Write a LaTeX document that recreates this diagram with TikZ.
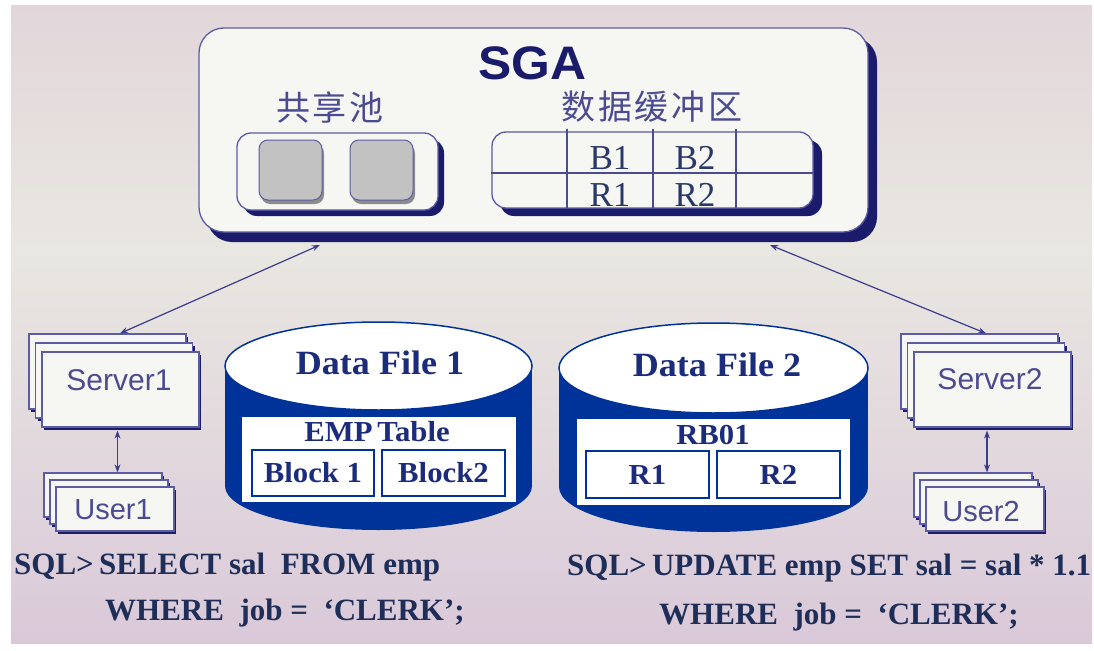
\documentclass[tikz,border=0pt]{standalone}
\usepackage{fontspec}
\setmainfont{Liberation Serif}
\newfontfamily\wideserif[FakeStretch=1.06]{Liberation Serif}
\newfontfamily\sansf{Liberation Sans}
\newfontfamily\widesans[FakeStretch=1.06]{Liberation Sans}
\newfontfamily\cjk[LetterSpace=8]{Noto Sans CJK SC}
\usetikzlibrary{arrows.meta,shadows}
\definecolor{bgtop}{HTML}{E2D6DA}
\definecolor{bgmid}{HTML}{E9E7E1}
\definecolor{bgbot}{HTML}{DAC9D9}
\definecolor{edge}{HTML}{5C5CA6}
\definecolor{navy}{HTML}{1B1B6B}
\definecolor{paper}{HTML}{F6F6F2}
\definecolor{cylblue}{HTML}{003399}
\definecolor{txtblue}{HTML}{1C2C7C}
\definecolor{sqlcol}{HTML}{1E2E58}
\definecolor{lilac}{HTML}{4B4B92}
\definecolor{arrowc}{HTML}{3C3C8C}
\definecolor{cellc}{HTML}{283868}
\definecolor{poolgray}{HTML}{C2C2C2}
\definecolor{poolshade}{HTML}{8C8C8C}
\tikzset{
  panel/.style={draw=edge, fill=paper, line width=1.3pt, inner sep=0pt, rounded corners=#1},
  card/.style={draw=edge, fill=paper, line width=1.2pt, inner sep=0pt,
    drop shadow={fill=navy, opacity=1, shadow xshift=2pt, shadow yshift=-3pt}},
  srvcard/.style={card, minimum width=157pt, minimum height=75pt},
  usrcard/.style={card, minimum width=118pt, minimum height=44pt},
  cardtext/.style={font=\sansf\fontsize{30}{32}\selectfont, text=lilac, inner sep=0pt},
  usrtext/.style={font=\sansf\fontsize{29}{31}\selectfont, text=lilac, inner sep=0pt},
  poolsq/.style={draw=edge, fill=poolgray, line width=1pt, rounded corners=9pt, inner sep=0pt,
    minimum width=63pt, minimum height=60pt,
    drop shadow={fill=poolshade, opacity=1, shadow xshift=2pt, shadow yshift=-4pt}},
  blk/.style={draw=cylblue, fill=white, line width=1.2pt, inner sep=0pt,
    font=\wideserif\bfseries\fontsize{29}{31}\selectfont, text=txtblue},
  cylfill/.style={fill=cylblue},
  dbl/.style={draw=arrowc, line width=1.2pt, {Stealth[length=8pt,width=6pt]}-{Stealth[length=8pt,width=6pt]}},
  gridln/.style={draw=lilac, line width=1.1pt},
  celltext/.style={font=\fontsize{35}{37}\selectfont, text=cellc, inner sep=0pt},
  sqltext/.style={font=\bfseries\fontsize{31}{33}\selectfont, text=sqlcol, inner sep=0pt, anchor=west},
  cjktext/.style={font=\cjk\fontsize{34}{36}\selectfont, text=lilac, inner sep=0pt},
  dftitle/.style={font=\wideserif\bfseries\fontsize{34}{36}\selectfont, text=txtblue, inner sep=0pt},
  tbltitle/.style={font=\wideserif\bfseries\fontsize{29}{31}\selectfont, text=txtblue, inner sep=0pt}
}
\begin{document}
\begin{tikzpicture}[x=1pt,y=-1pt]
\useasboundingbox (0,0) rectangle (1094,650);
\fill[white] (0,0) rectangle (1094,650);
\shade[top color=bgtop, bottom color=bgmid] (11,6) rectangle (1092,250.5);
\shade[top color=bgmid, bottom color=bgbot] (11,250) rectangle (1092,643);

% ---------------- SGA ----------------
\fill[navy, rounded corners=25pt] (207,37) rectangle (877,242);
\node[panel=25pt, minimum width=669pt, minimum height=204pt] (sga) at (533.5,130) {};
\node[font=\widesans\bfseries\fontsize{47}{49}\selectfont, text=navy, inner sep=0pt] (sgat) at (532,63) {SGA};
\node[cjktext] (poolt) at (330,107) {共享池};
\node[cjktext] (buft) at (652,107) {数据缓冲区};

% shared pool
\fill[navy, rounded corners=14pt] (243,139) rectangle (444,216);
\node[panel=14pt, minimum width=201pt, minimum height=77pt] (pool) at (337.5,171.5) {};
\node[poolsq] (sq1) at (290.5,170) {};
\node[poolsq] (sq2) at (381.5,170) {};

% buffer cache
\fill[navy, rounded corners=14pt] (500,140) rectangle (822,216);
\node[panel=14pt, minimum width=321pt, minimum height=76pt] (buf) at (652.5,170) {};
\draw[gridln] (buf.west |- 0,173) -- (buf.east |- 0,173);
\draw[gridln] (567,129) -- (567,208);
\draw[gridln] (653,129) -- (653,208);
\draw[gridln] (736,129) -- (736,208);
\node[celltext] (b1) at (610,158) {B1};
\node[celltext] (b2) at (695,158) {B2};
\node[celltext] (r1) at (610,195) {R1};
\node[celltext] (r2) at (695,195) {R2};

% ---------------- Server1 / User1 ----------------
\node[srvcard] (s1c) at (107.5,371.5) {};
\node[srvcard] (s1b) at (114,380.5) {};
\node[srvcard] (s1) at (120.5,389.5) {};
\node[cardtext] (s1t) at (119,380) {Server1};
\node[usrcard] (u1c) at (103,495) {};
\node[usrcard] (u1b) at (109,502) {};
\node[usrcard] (u1) at (115,509) {};
\node[usrtext] (u1t) at (113,510) {User1};

% ---------------- Server2 / User2 ----------------
\node[srvcard] (s2c) at (979.5,371.5) {};
\node[srvcard] (s2b) at (986,380.5) {};
\node[srvcard] (s2) at (992.5,389.5) {};
\node[cardtext] (s2t) at (990,379) {Server2};
\node[usrcard] (u2c) at (973,495) {};
\node[usrcard] (u2b) at (979,502) {};
\node[usrcard] (u2) at (985,509) {};
\node[usrtext] (u2t) at (981,512) {User2};

% ---------------- connectors ----------------
\coordinate (sgaL) at (320,245);
\coordinate (sgaR) at (770,245);
\coordinate (x1a) at (120,0);
\coordinate (x2a) at (986,0);
\coordinate (x1b) at (117.5,0);
\coordinate (x2b) at (987,0);
\draw[dbl] (sgaL) -- (s1c.north -| x1a);
\draw[dbl] (sgaR) -- (s2c.north -| x2a);
\draw[dbl, shorten <=3pt] (s1.south -| x1b) -- (u1c.north -| x1b);
\draw[dbl, shorten <=3pt] (s2.south -| x2b) -- (u2c.north -| x2b);

% ---------------- Data File 1 ----------------
\fill[cylfill] (225,366) rectangle (532,486);
\fill[cylfill] (378.5,486) ellipse [x radius=153.5pt, y radius=44pt];
\draw[draw=cylblue, fill=white, line width=1.5pt] (378.5,366) ellipse [x radius=153.5pt, y radius=44pt];
\node[dftitle] (df1) at (380,363) {Data File 1};
\fill[white] (242,417) rectangle (516,502);
\node[tbltitle] (emp) at (377,432) {EMP\,Table};
\node[blk, minimum width=122pt, minimum height=46pt] (blk1) at (313,473) {Block 1};
\node[blk, minimum width=123pt, minimum height=46pt] (blk2) at (443.5,473) {Block2};

% ---------------- Data File 2 ----------------
\fill[cylfill] (559,368) rectangle (868,487);
\fill[cylfill] (713.5,487) ellipse [x radius=154.5pt, y radius=45pt];
\draw[draw=cylblue, fill=white, line width=1.5pt] (713.5,368) ellipse [x radius=154.5pt, y radius=45pt];
\node[dftitle] (df2) at (717,365) {Data File 2};
\fill[white] (577,419) rectangle (850,505);
\node[tbltitle] (rb) at (713,435) {RB01};
\node[blk, minimum width=123pt, minimum height=47pt] (rr1) at (647.5,474.5) {R1};
\node[blk, minimum width=123pt, minimum height=47pt] (rr2) at (778.5,474.5) {R2};

% ---------------- SQL ----------------
\node[sqltext] (q1a) at (14,567) {SQL>\,SELECT sal\ \ FROM emp};
\node[sqltext] (q1b) at (105,613) {WHERE\ \ job =\ \ ‘CLERK’;};
\node[sqltext] (q2a) at (567,568) {SQL>\,UPDATE emp SET sal = sal * 1.1};
\node[sqltext] (q2b) at (659,617) {WHERE\ \ job =\ \ ‘CLERK’;};
\end{tikzpicture}
\end{document}
